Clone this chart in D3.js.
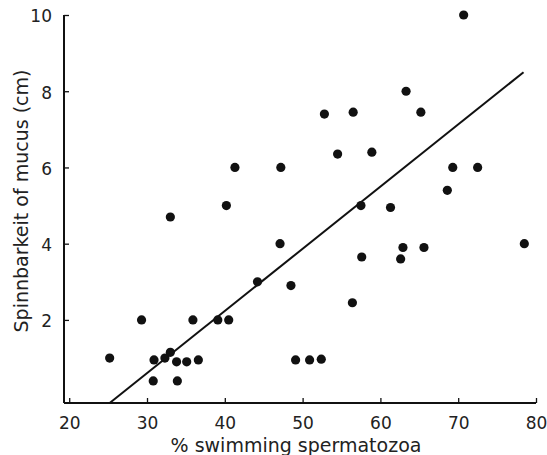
<!DOCTYPE html>
<html>
<head>
<meta charset="utf-8">
<script src="https://cdn.jsdelivr.net/npm/d3@7"></script>
<style>
  body { margin: 0; background: #fff; }
  svg { display: block; }
  text { font-family: "DejaVu Sans", sans-serif; fill: #222; }
</style>
</head>
<body>
<div id="chart"></div>
<script>
// % swimming spermatozoa (x) and spinnbarkeit in cm (y)
var swimming = [25.2, 29.3, 33.0, 30.8, 33.9, 30.9, 32.3, 33.0, 33.8, 35.1,
  36.6, 35.9, 39.1, 40.5, 40.2, 41.3, 47.1, 47.2, 44.2, 48.5,
  49.1, 50.9, 52.4, 52.8, 56.5, 54.5, 58.9, 63.3, 65.2, 70.7,
  69.3, 72.5, 68.6, 57.5, 57.6, 56.4, 61.3, 62.9, 65.6, 62.6, 78.5];
var spinnbarkeit = [1.0, 2.0, 4.7, 0.4, 0.4, 0.95, 1.0, 1.15, 0.9, 0.9,
  0.95, 2.0, 2.0, 2.0, 5.0, 6.0, 4.0, 6.0, 3.0, 2.9,
  0.95, 0.95, 0.97, 7.4, 7.45, 6.35, 6.4, 8.0, 7.45, 10.0,
  6.0, 6.0, 5.4, 5.0, 3.65, 2.45, 4.95, 3.9, 3.9, 3.6, 4.0];

// fitted regression line end points
var fitX = [25.2, 78.4];
var fitY = [-0.18, 8.5];

var xTicks = [20, 30, 40, 50, 60, 70, 80];
var yTicks = [2, 4, 6, 8, 10];

var width = 547, height = 455;

var x = d3.scaleLinear().domain([19.33, 80]).range([64, 536]);
var y = d3.scaleLinear().domain([-0.18, 10]).range([403, 15]);

var svg = d3.select("#chart")
  .append("svg")
  .attr("width", width)
  .attr("height", height);

// x axis, ticks pointing inwards
var xAxis = svg.append("g")
  .attr("transform", "translate(0," + y(-0.18) + ")")
  .call(d3.axisBottom(x).tickValues(xTicks).tickSizeInner(-5).tickSizeOuter(0).tickPadding(14));
xAxis.select(".domain").attr("stroke", "#111").attr("stroke-width", 2)
  .attr("d", "M" + x.range()[0] + ",0H" + x.range()[1]);
xAxis.selectAll(".tick line").attr("stroke", "#111").attr("stroke-width", 1.3);
xAxis.selectAll(".tick text").style("font-size", "17px").attr("fill", "#222");

// y axis
var yAxis = svg.append("g")
  .attr("transform", "translate(" + x(19.33) + ",0)")
  .call(d3.axisLeft(y).tickValues(yTicks).tickSizeInner(-5).tickSizeOuter(0).tickPadding(12));
yAxis.select(".domain").attr("stroke", "#111").attr("stroke-width", 2)
  .attr("d", "M0," + y.range()[0] + "V" + y(10));
yAxis.selectAll(".tick line").attr("stroke", "#111").attr("stroke-width", 1.3);
yAxis.selectAll(".tick text").style("font-size", "17px").attr("fill", "#222")
  .attr("dy", "0.4em");

// axis titles
svg.append("text")
  .attr("x", 296)
  .attr("y", 452)
  .attr("text-anchor", "middle")
  .style("font-size", "19px")
  .text("% swimming spermatozoa");

svg.append("text")
  .attr("transform", "translate(28,201) rotate(-90)")
  .attr("text-anchor", "middle")
  .style("font-size", "19px")
  .text("Spinnbarkeit of mucus (cm)");

// regression line
svg.append("line")
  .attr("x1", x(fitX[0])).attr("y1", y(fitY[0]))
  .attr("x2", x(fitX[1])).attr("y2", y(fitY[1]))
  .attr("stroke", "#111")
  .attr("stroke-width", 2);

// points
svg.selectAll("circle.pt")
  .data(d3.range(swimming.length))
  .enter()
  .append("circle")
  .attr("class", "pt")
  .attr("cx", function (i) { return x(swimming[i]); })
  .attr("cy", function (i) { return y(spinnbarkeit[i]); })
  .attr("r", 4.6)
  .attr("fill", "#111");
</script>
</body>
</html>
